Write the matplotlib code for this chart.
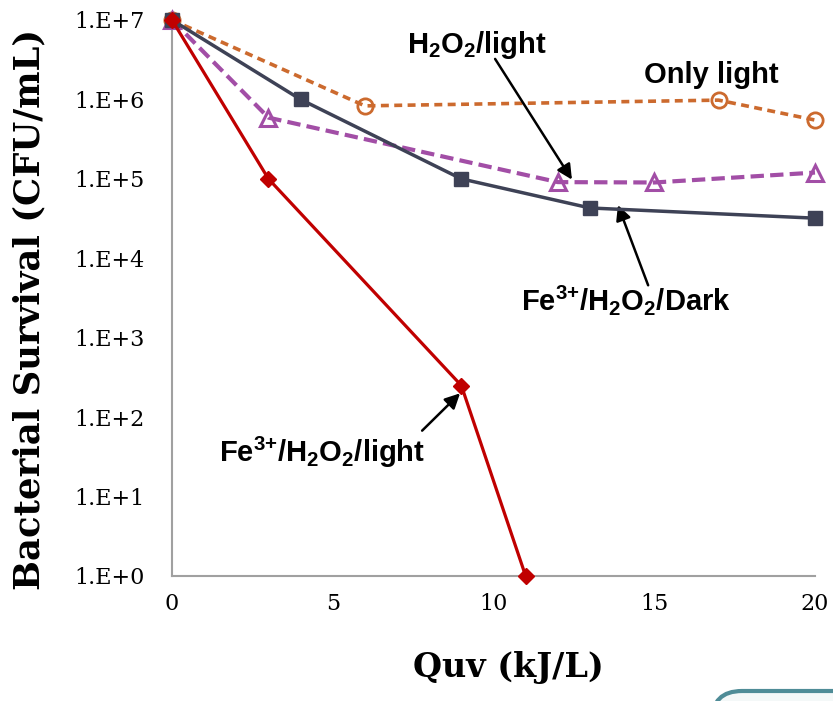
import matplotlib
matplotlib.use("Agg")
import matplotlib.pyplot as plt
from matplotlib.patches import FancyBboxPatch
from matplotlib.ticker import FixedLocator, FixedFormatter, NullLocator

plt.rcParams["mathtext.fontset"] = "custom"
plt.rcParams["mathtext.rm"] = "Liberation Sans:bold"
plt.rcParams["mathtext.it"] = "Liberation Sans:bold"
plt.rcParams["mathtext.bf"] = "Liberation Sans:bold"
plt.rcParams["mathtext.default"] = "bf"

# Treatment data: dose Quv (kJ/L) vs bacterial survival (CFU/mL)
only_light_x = [0, 6, 17, 20]
only_light_y = [1.0e7, 8.3e5, 9.8e5, 5.5e5]

h2o2_light_x = [0, 3, 12, 15, 20]
h2o2_light_y = [1.0e7, 5.9e5, 9.1e4, 9.0e4, 1.2e5]

fe_dark_x = [0, 4, 9, 13, 20]
fe_dark_y = [1.0e7, 1.0e6, 1.0e5, 4.3e4, 3.2e4]

fe_light_x = [0, 3, 9, 11]
fe_light_y = [1.0e7, 1.0e5, 250, 1]

y_ticks = [1e0, 1e1, 1e2, 1e3, 1e4, 1e5, 1e6, 1e7]
y_tick_labels = ["1.E+0", "1.E+1", "1.E+2", "1.E+3", "1.E+4", "1.E+5", "1.E+6", "1.E+7"]
x_ticks = [0, 5, 10, 15, 20]
x_tick_labels = ["0", "5", "10", "15", "20"]

fig = plt.figure(figsize=(8.33, 7.01), dpi=100)
ax = fig.add_axes([172 / 833, 125 / 701, 643 / 833, 556 / 701])

ax.plot(only_light_x, only_light_y, color="#CC6A2E", lw=2.6, ls=(0, (2.2, 1.5)),
        marker="o", ms=11, mfc="none", mew=2.0, clip_on=False, zorder=3)
ax.plot(h2o2_light_x, h2o2_light_y, color="#A24EA6", lw=3.0, ls=(0, (3.2, 1.5)),
        marker="^", ms=12, mfc="none", mew=2.2, clip_on=False, zorder=3)
ax.plot(fe_dark_x, fe_dark_y, color="#3E4256", lw=2.5,
        marker="s", ms=9.5, clip_on=False, zorder=4)
ax.plot(fe_light_x, fe_light_y, color="#C00000", lw=2.3,
        marker="D", ms=8, clip_on=False, zorder=5)

ax.set_yscale("log")
ax.set_xlim(0, 20)
ax.set_ylim(1, 1e7)
ax.yaxis.set_major_locator(FixedLocator(y_ticks))
ax.yaxis.set_major_formatter(FixedFormatter(y_tick_labels))
ax.yaxis.set_minor_locator(NullLocator())
ax.xaxis.set_major_locator(FixedLocator(x_ticks))
ax.xaxis.set_major_formatter(FixedFormatter(x_tick_labels))

for side in ("top", "right"):
    ax.spines[side].set_visible(False)
for side in ("left", "bottom"):
    ax.spines[side].set_color("#A0A0A0")
    ax.spines[side].set_linewidth(1.5)

ax.tick_params(axis="both", length=0, labelsize=16)
ax.tick_params(axis="y", pad=20)
ax.tick_params(axis="x", pad=12)
for lab in ax.get_xticklabels() + ax.get_yticklabels():
    lab.set_fontfamily("DejaVu Serif")

ax.set_xlabel("Quv (kJ/L)", fontsize=24, fontweight="bold",
              fontfamily="DejaVu Serif")
ax.xaxis.set_label_coords(0.523, -0.135)
ax.set_ylabel("Bacterial Survival (CFU/mL)", fontsize=25.5, fontweight="bold",
              fontfamily="DejaVu Serif")
ax.yaxis.set_label_coords(-0.196, 0.48)

# Series labels with pointer arrows
label_kw = dict(fontsize=21, ha="center", va="center", color="black",
                fontfamily="Liberation Sans", fontweight="bold")
ax.text(9.49, 10 ** 6.685, r"H$_2$O$_2$/light", **label_kw)
ax.text(16.77, 10 ** 6.31, r"Only light", **label_kw)
ax.text(14.12, 10 ** 3.475, r"Fe$^{3{+}}$/H$_2$O$_2$/Dark", **label_kw)
ax.text(4.67, 10 ** 1.55, r"Fe$^{3{+}}$/H$_2$O$_2$/light", **label_kw)

arrow_kw = dict(arrowstyle="-|>,head_length=0.9,head_width=0.45", color="black", lw=1.8,
                shrinkA=0, shrinkB=0)
ax.annotate("", xy=(12.44, 10 ** 4.99), xytext=(10.05, 10 ** 6.51), arrowprops=arrow_kw)
ax.annotate("", xy=(13.87, 10 ** 4.67), xytext=(14.81, 10 ** 3.66), arrowprops=arrow_kw)
ax.annotate("", xy=(8.96, 10 ** 2.30), xytext=(7.78, 10 ** 1.83), arrowprops=arrow_kw)

# Rounded panel edge peeking in at the lower right
panel = FancyBboxPatch((712, -60), 200, 70, boxstyle="round,pad=0,rounding_size=30",
                       transform=None, facecolor="#F4F8F8", edgecolor="#4F8C97",
                       lw=3, clip_on=False, zorder=0)
fig.patches.append(panel)

fig.savefig("out.png", dpi=100)
